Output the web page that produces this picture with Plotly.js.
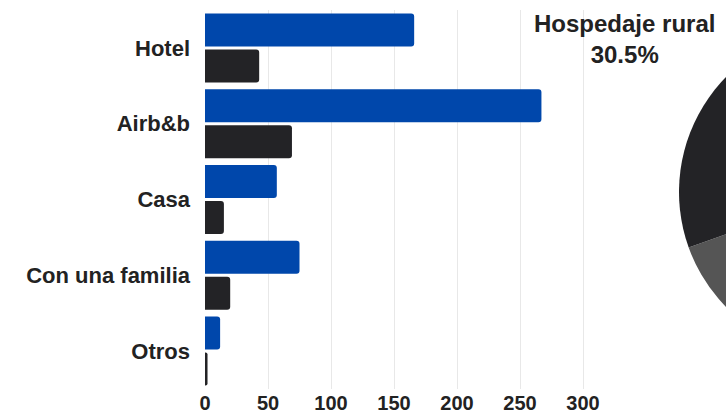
<!DOCTYPE html>
<html>
<head>
<meta charset="utf-8">
<script src="https://cdn.plot.ly/plotly-3.0.1.min.js"></script>
<style>
html, body { margin: 0; padding: 0; overflow: hidden; background: #fff; }
#chart { width: 1010px; height: 417px; }
</style>
</head>
<body>
<div id="chart"></div>
<script>
const categories = ["Hotel", "Airb&b", "Casa", "Con una familia", "Otros"];
const seriesBlue = [166, 267, 57, 75, 12];
const seriesDark = [43, 69, 15, 20, 2];
const xTicks = [0, 50, 100, 150, 200, 250, 300];
const pieLabels = ["Hospedaje urbano", "Hospedaje rural"];
const pieValues = [69.5, 30.5];

const BLUE = "#0047ab";
const DARK = "#232326";
const GRAY = "#555555";
const FAMILY = "Liberation Sans, Arial, sans-serif";

const total = pieValues.reduce((a, b) => a + b, 0);
const ruralPct = (pieValues[1] / total * 100).toFixed(1) + "%";

const traces = [
  {
    type: "bar", orientation: "h", y: categories, x: seriesBlue,
    marker: { color: BLUE, cornerradius: 3 }, hoverinfo: "skip", showlegend: false
  },
  {
    type: "bar", orientation: "h", y: categories, x: seriesDark,
    marker: { color: DARK, cornerradius: 3 }, hoverinfo: "skip", showlegend: false
  },
  {
    type: "pie", labels: pieLabels, values: pieValues, sort: false,
    direction: "clockwise", rotation: 0, textinfo: "none",
    marker: { colors: [GRAY, DARK], line: { width: 0 } },
    domain: { x: [0.5888, 0.9963], y: [0.087, 0.9525] },
    hoverinfo: "skip", showlegend: false
  }
];

const layout = {
  width: 1010, height: 417,
  margin: { l: 205, r: 0, t: 10, b: 28 },
  paper_bgcolor: "#fff", plot_bgcolor: "#fff",
  barmode: "group", bargap: 0.05, bargroupgap: 0.083,
  showlegend: false,
  xaxis: {
    domain: [0, 0.5009], range: [0, 320],
    tickvals: xTicks, ticktext: xTicks.map(String),
    showgrid: true, gridcolor: "#e8e8e8", gridwidth: 1,
    zeroline: false, showline: false, ticks: "",
    tickfont: { family: FAMILY, size: 20, color: "#222", weight: 700 },
    ticklabelstandoff: 0
  },
  yaxis: {
    type: "category", autorange: "reversed",
    showgrid: false, zeroline: false, showline: false, ticks: "",
    tickfont: { family: FAMILY, size: 22, color: "#222", weight: 700 },
    ticklabelstandoff: 14
  },
  annotations: [
    {
      xref: "paper", yref: "paper", x: 0.5217, y: 0.9235,
      xanchor: "center", yanchor: "middle", showarrow: false,
      text: pieLabels[1] + "<br>" + ruralPct,
      font: { family: FAMILY, size: 24, color: "#222", weight: 700 }
    }
  ]
};

Plotly.newPlot("chart", traces, layout, { displayModeBar: false, staticPlot: true });
</script>
</body>
</html>
